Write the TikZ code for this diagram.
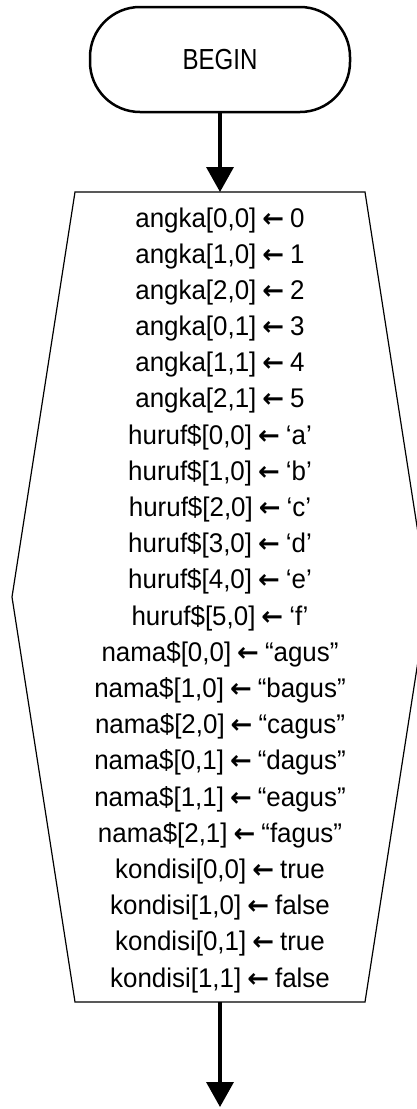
\documentclass[tikz,border=0pt]{standalone}
\usepackage{fontspec}
\setmainfont{Liberation Sans}
\newfontfamily\bodyfont[FakeStretch=0.96]{Liberation Sans}
\newfontfamily\termfont[FakeStretch=0.83]{Liberation Sans}
\newfontfamily\arrowfont{DejaVu Sans}
\newcommand{\asg}{\hspace{6pt}{\arrowfont\bfseries\fontsize{26}{26}\selectfont ←}\hspace{6pt}}
\usetikzlibrary{arrows.meta}
\tikzset{
  terminal/.style={draw, line width=2.5pt, rounded corners=50pt, minimum width=260pt, minimum height=105pt, inner sep=0pt, font=\termfont\fontsize{29}{29}\selectfont},
  process/.style={draw, line width=1.2pt, line join=miter},
  flow/.style={line width=3.5pt, -{Triangle[length=25pt,width=27pt]}},
  stmt/.style={anchor=base, inner sep=0pt, font=\bodyfont\fontsize{27}{27}\selectfont}
}
\begin{document}
\begin{tikzpicture}[x=1pt,y=-1pt]
\useasboundingbox (0,0) rectangle (417,1109);
\clip (0,0) rectangle (417,1109);
\node[terminal] (begin) at (220,59.5) {BEGIN};
\coordinate (htop) at (220,192);
\coordinate (hbot) at (220,1002);
\coordinate (end) at (220,1107);
\draw[process] (75,192) -- (365,192) -- (428,597) -- (365,1002) -- (75,1002) -- (12,597) -- cycle;
\foreach \t [count=\i] in {
  {angka[0,0]\asg 0},
  {angka[1,0]\asg 1},
  {angka[2,0]\asg 2},
  {angka[0,1]\asg 3},
  {angka[1,1]\asg 4},
  {angka[2,1]\asg 5},
  {huruf\$[0,0]\asg ‘a’},
  {huruf\$[1,0]\asg ‘b’},
  {huruf\$[2,0]\asg ‘c’},
  {huruf\$[3,0]\asg ‘d’},
  {huruf\$[4,0]\asg ‘e’},
  {huruf\$[5,0]\asg ‘f’},
  {nama\$[0,0]\asg “agus”},
  {nama\$[1,0]\asg “bagus”},
  {nama\$[2,0]\asg “cagus”},
  {nama\$[0,1]\asg “dagus”},
  {nama\$[1,1]\asg “eagus”},
  {nama\$[2,1]\asg “fagus”},
  {kondisi[0,0]\asg true},
  {kondisi[1,0]\asg false},
  {kondisi[0,1]\asg true},
  {kondisi[1,1]\asg false}}
{
  \node[stmt] (line\i) at (220,{227+36.19*(\i-1)}) {\t};
}
\draw[flow] (begin.south) -- (htop);
\draw[flow] (hbot) -- (end);
\end{tikzpicture}
\end{document}
